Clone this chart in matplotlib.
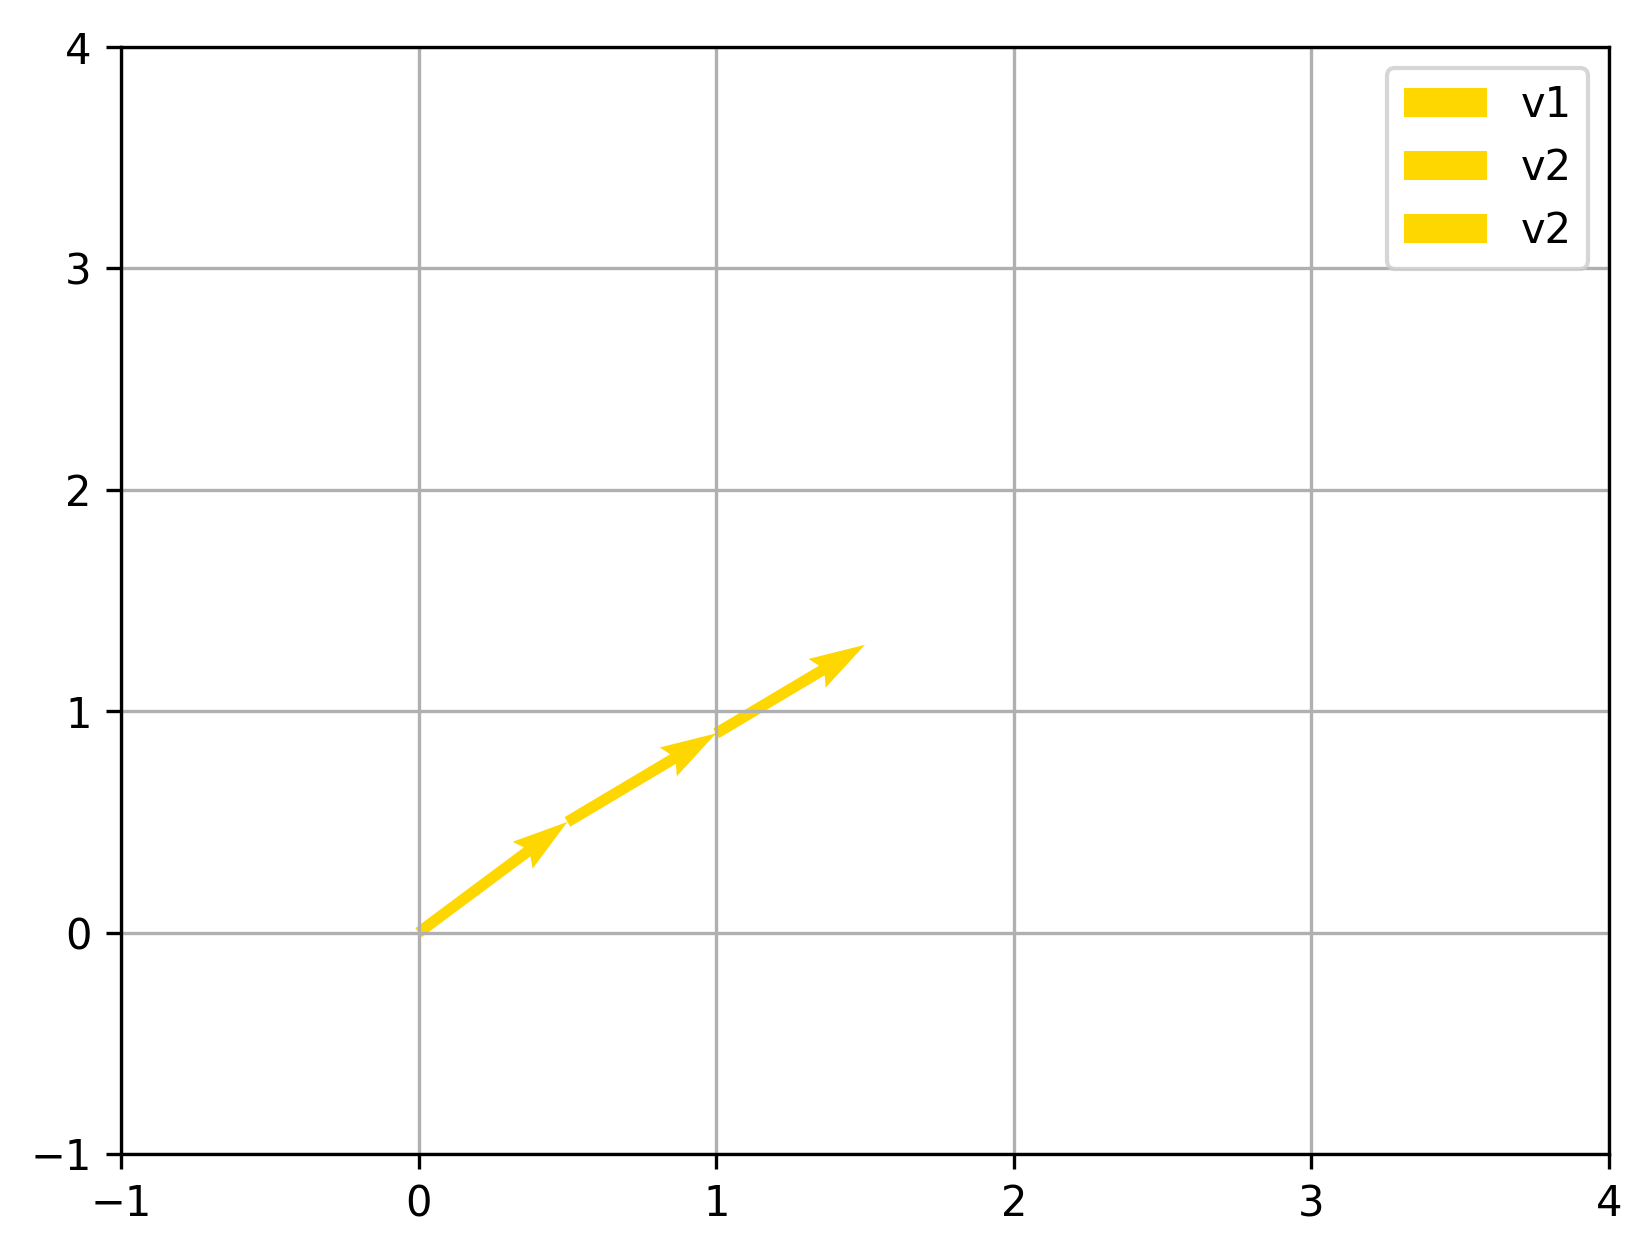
import matplotlib
matplotlib.use('Agg')
import matplotlib.pyplot as plt

# vectors: start points and components
labels = ['v1', 'v2', 'v2']
x_start = [0, 0.5, 1.0]
y_start = [0, 0.5, 0.9]
u_comp = [0.5, 0.5, 0.5]
v_comp = [0.5, 0.4, 0.4]

fig = plt.figure(figsize=(1651 / 300, 1256 / 300), dpi=300)
ax = fig.add_axes([121 / 1651, 102 / 1256, 1488 / 1651, 1107 / 1256])

for x, y, u, v, label in zip(x_start, y_start, u_comp, v_comp, labels):
    ax.quiver(x, y, u, v, angles='xy', scale_units='xy', scale=1,
              color='gold', label=label)

ax.set_xlim(-1, 4)
ax.set_ylim(-1, 4)
ax.grid(True)
ax.legend(loc='upper right')

fig.savefig('out.png', dpi=300)
